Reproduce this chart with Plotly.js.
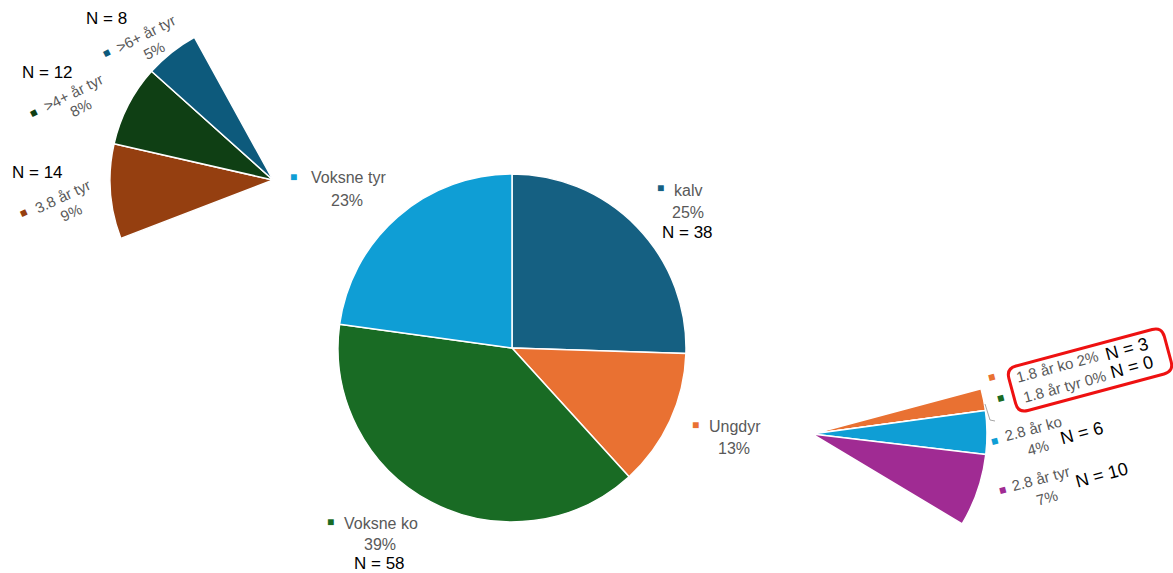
<!DOCTYPE html>
<html>
<head>
<meta charset="utf-8">
<script src="https://cdn.plot.ly/plotly-3.0.1.min.js"></script>
<style>html,body{margin:0;padding:0;overflow:hidden;background:#fff;}#chart{width:1173px;height:640px;}</style>
</head>
<body>
<div id="chart"></div>
<script>
// ---- data ----
const mainCategories = ["kalv", "Ungdyr", "Voksne ko", "Voksne tyr"];
const mainCounts = [38, 19, 58, 34];
const mainPctLabels = ["25%", "13%", "39%", "23%"];

const tyrCategories = ["3.8 år tyr", ">4+ år tyr", ">6+ år tyr"];
const tyrCounts = [14, 12, 8];
const tyrPctLabels = ["9%", "8%", "5%"];

const ungCategories = ["1.8 år ko", "1.8 år tyr", "2.8 år ko", "2.8 år tyr"];
const ungCounts = [3, 0, 6, 10];
const ungPctLabels = ["2%", "0%", "4%", "7%"];

// ---- styling / layout helpers ----
const W = 1173, H = 640;
const px = x => x / W;
const py = y => 1 - y / H;
const total = mainCounts.reduce((a, b) => a + b, 0);
const sum = a => a.reduce((s, v) => s + v, 0);
function dom(cx, cy, r) {
  return { x: [(cx - r) / W, (cx + r) / W], y: [1 - (cy + r) / H, 1 - (cy - r) / H] };
}
const CLEAR = "rgba(0,0,0,0)";
const mainColors = ["#156082", "#E97132", "#196B24", "#0F9ED5"];
const tyrColors = ["#953F10", "#0F3F14", "#0D5A7C"];
const ungColors = ["#E97132", "#196B24", "#0F9ED5", "#A02B93"];

const traces = [
  {
    type: "pie", labels: mainCategories, values: mainCounts, sort: false,
    direction: "clockwise", rotation: 0, textinfo: "none", hoverinfo: "skip",
    marker: { colors: mainColors, line: { color: "#ffffff", width: 1.5 } },
    domain: dom(512, 348, 174), showlegend: false
  },
  {
    type: "pie", labels: tyrCategories.concat(["rest"]),
    values: tyrCounts.concat([total - sum(tyrCounts)]), sort: false,
    direction: "clockwise", rotation: -111, textinfo: "none", hoverinfo: "skip",
    marker: { colors: tyrColors.concat([CLEAR]),
      line: { color: "#ffffff", width: [1.5, 1.5, 1.5, 0] } },
    domain: dom(273, 180, 163), showlegend: false
  },
  {
    type: "pie", labels: ungCategories.concat(["rest"]),
    values: ungCounts.concat([total - sum(ungCounts)]), sort: false,
    direction: "clockwise", rotation: 75, textinfo: "none", hoverinfo: "skip",
    marker: { colors: ungColors.concat([CLEAR]),
      line: { color: "#ffffff", width: [1.5, 1.5, 1.5, 1.5, 0] } },
    domain: dom(812, 434, 175), showlegend: false
  }
];

const GREY = "#595959";
const LF = "Liberation Sans, Arial, sans-serif";
const ann = [];
function t(text, x, y, size, color, angle) {
  ann.push({ text: text, x: px(x), y: py(y), xref: "paper", yref: "paper",
    showarrow: false, xanchor: "center", yanchor: "middle",
    textangle: angle || 0, font: { family: LF, size: size, color: color } });
}
function sq(x, y, color, angle) { t("■", x, y, 12, color, angle); }

// main pie labels
const MS = 16, NS = 17;
sq(660, 188, mainColors[0]); t(mainCategories[0], 688, 190, MS, GREY); t(mainPctLabels[0], 688, 212, MS, GREY); t("N = " + mainCounts[0], 687, 233, NS, "#000");
sq(695, 425, mainColors[1]); t(mainCategories[1], 735, 426, MS, GREY); t(mainPctLabels[1], 734, 448, MS, GREY);
sq(330, 522, mainColors[2]); t(mainCategories[2], 381, 523, MS, GREY); t(mainPctLabels[2], 380, 544, MS, GREY); t("N = " + mainCounts[2], 379, 563, NS, "#000");
sq(293, 177, mainColors[3]); t(mainCategories[3], 348, 178, MS, GREY); t(mainPctLabels[3], 347, 200, MS, GREY);

// tyr sub-pie labels
const RS = 15;
t("N = " + tyrCounts[2], 106, 19, NS, "#000");
sq(106, 53, tyrColors[2], -27); t(tyrCategories[2], 146, 34, RS, GREY, -27); t(tyrPctLabels[2], 154, 50, RS, GREY, -27);
t("N = " + tyrCounts[1], 47, 73, NS, "#000");
sq(33, 113, tyrColors[1], -27); t(tyrCategories[1], 73, 92, RS, GREY, -27); t(tyrPctLabels[1], 81, 108, RS, GREY, -27);
t("N = " + tyrCounts[0], 37, 173, NS, "#000");
sq(23, 213, tyrColors[0], -25); t(tyrCategories[0], 62, 196, RS, GREY, -25); t(tyrPctLabels[0], 71, 212, RS, GREY, -25);

// ungdyr sub-pie labels
const RA = -15;
sq(991, 377, ungColors[0], RA); t(ungCategories[0] + " " + ungPctLabels[0], 1057, 366, RS, GREY, RA);
sq(1000, 398, ungColors[1], RA); t(ungCategories[1] + " " + ungPctLabels[1], 1064, 386, RS, GREY, RA);
t("N = " + ungCounts[0], 1127, 349, 18, "#000", RA);
t("N = " + ungCounts[1], 1132, 367, 18, "#000", RA);
sq(994, 441, ungColors[2], RA); t(ungCategories[2], 1033, 428, RS, GREY, RA); t(ungPctLabels[2], 1038, 447, RS, GREY, RA);
t("N = " + ungCounts[2], 1082, 433, 18, "#000", RA);
sq(1002, 490, ungColors[3], RA); t(ungCategories[3], 1040, 478, RS, GREY, RA); t(ungPctLabels[3], 1047, 497, RS, GREY, RA);
t("N = " + ungCounts[3], 1102, 475, 18, "#000", RA);

// rotated rounded red box
function roundRect(cx, cy, w, h, rad, angDeg) {
  const a = angDeg * Math.PI / 180, c = Math.cos(a), s = Math.sin(a);
  const P = (lx, ly) => { const X = cx + lx * c - ly * s, Y = cy + lx * s + ly * c; return px(X).toFixed(5) + "," + py(Y).toFixed(5); };
  const hw = w / 2, hh = h / 2;
  return "M" + P(-hw + rad, -hh) + " L" + P(hw - rad, -hh) + " Q" + P(hw, -hh) + " " + P(hw, -hh + rad) +
    " L" + P(hw, hh - rad) + " Q" + P(hw, hh) + " " + P(hw - rad, hh) +
    " L" + P(-hw + rad, hh) + " Q" + P(-hw, hh) + " " + P(-hw, hh - rad) +
    " L" + P(-hw, -hh + rad) + " Q" + P(-hw, -hh) + " " + P(-hw + rad, -hh) + " Z";
}
const shapes = [
  { type: "path", xref: "paper", yref: "paper", path: roundRect(1090, 370, 161, 46, 10, -15),
    line: { color: "#EE1111", width: 3 }, fillcolor: CLEAR },
  { type: "path", xref: "paper", yref: "paper",
    path: "M" + px(985) + "," + py(404) + " L" + px(990) + "," + py(420) + " L" + px(995) + "," + py(421),
    line: { color: "#A6A6A6", width: 1 } }
];

Plotly.newPlot("chart", traces, {
  width: W, height: H, margin: { l: 0, r: 0, t: 0, b: 0 },
  paper_bgcolor: "#ffffff", showlegend: false,
  annotations: ann, shapes: shapes
}, { staticPlot: true });
</script>
</body>
</html>
